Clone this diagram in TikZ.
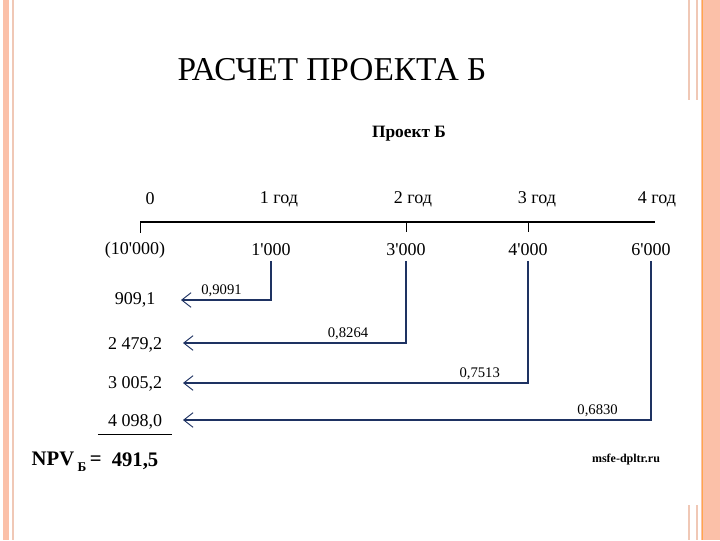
\documentclass[tikz,border=0pt]{standalone}
\usepackage{fontspec}
\setmainfont{Liberation Serif}
\usetikzlibrary{arrows.meta, positioning}

\definecolor{peach}{RGB}{251,192,168}
\definecolor{peachline}{RGB}{240,200,182}
\definecolor{flowblue}{RGB}{30,50,98}
\newcommand\ap{\textquotesingle}

\begin{document}
\begin{tikzpicture}[x=0.75pt,y=-0.75pt,
 title/.style={font=\fontsize{25}{27}\selectfont},
 head/.style={font=\fontsize{13}{15}\selectfont\bfseries},
 num/.style={font=\fontsize{13.5}{15}\selectfont},
 rate/.style={font=\fontsize{11}{13}\selectfont,above,inner sep=2pt},
 axis/.style={line width=2.2pt},
 tick/.style={line width=0.6pt},
 flow/.style={draw=flowblue,line width=1.5pt,
   -{Straight Barb[length=7pt,width=11pt,line width=0.7pt]}},
 npv/.style={font=\fontsize{15.5}{17}\selectfont\bfseries}]

  \useasboundingbox (0,0) rectangle (720,540);

  % slide frame
  \fill[peach] (3,0) rectangle (9,540);
  \draw[peachline,line width=0.8pt] (13,0) -- (13,540);
  \fill[peach] (701,0) rectangle (720,540);
  \draw[orange!70,line width=0.6pt] (702,0) -- (702,540);
  \foreach \x in {689,697} {
   \draw[peachline,line width=1pt] (\x,0) -- (\x,100);
   \draw[peachline,line width=1pt] (\x,505) -- (\x,540);}

  \node[title] (title) at (332,70) {РАСЧЕТ ПРОЕКТА Б};
  \node[head] (proj) at (409,134) {Проект Б};

  % years
  \foreach \n/\x/\t in {y0/150/0, y1/279/1 год, y2/413/2 год, y3/537/3 год, y4/657/4 год}
   \node[num] (\n) at (\x,199) {\t};

  % time axis
  \coordinate (a0) at (140,222);
  \coordinate (a4) at (655,222);
  \draw[axis] (a0) -- (a4);

  % cash flows
  \foreach \n/\x/\t in {c0/135/(10\ap000), c1/271/1\ap000, c2/406/3\ap000, c3/528/4\ap000, c4/651/6\ap000}
   \node[num] (\n) at (\x,250) {\t};

  \draw[tick] (a0) -- ++(0,11);
  \foreach \c in {c2,c3}
   \draw[tick] (a0 -| \c) -- ++(0,10);

  % present values
  \foreach \n/\y/\t in {p1/300/{909,1}, p2/345/{2 479,2}, p3/384/{3 005,2}, p4/422/{4 098,0}}
   \node[num] (\n) at (135,\y) {\t};
  \draw[tick] ([xshift=-4pt]p4.south west) -- ([xshift=4pt]p4.south east);

  \coordinate (e1) at (181,300);
  \coordinate (e2) at (183,343);
  \coordinate (e3) at (183,383);
  \coordinate (e4) at (183,420);

  \foreach \s/\t/\p/\l in {c1/e1/0.775/{0,9091}, c2/e2/0.63/{0,8264}, c3/e3/0.57/{0,7513}, c4/e4/0.557/{0,6830}} {
   \draw[flow] (\s.south) |- node[rate,pos=\p] {\l} (\t);}

  % result
  \node[npv,anchor=west] (npv) at (27,462) {NPV\,\raisebox{-0.6ex}{\fontsize{10}{11}\selectfont Б}\,=};
  \node[npv] (res) at (135,461) {491,5};
  \node[font=\fontsize{9}{10}\selectfont\bfseries] (site) at (626,460) {msfe-dpltr.ru};
\end{tikzpicture}
\end{document}
